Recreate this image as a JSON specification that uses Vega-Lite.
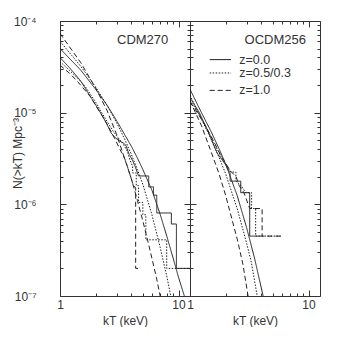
{
  "$schema": "https://vega.github.io/schema/vega-lite/v6.json",
  "background": "white",
  "padding": {"left": 10, "top": 14, "right": 0, "bottom": 0},
  "bounds": "flush",
  "spacing": 0,
  "config": {
    "view": {"stroke": "#333", "strokeWidth": 1},
    "font": "Liberation Sans",
    "axis": {
      "grid": false, "domain": false, "tickColor": "#333", "labelColor": "#333", "titleColor": "#333",
      "labelFont": "Liberation Sans", "titleFont": "Liberation Sans", "labelFontSize": 12, "titleFontSize": 12,
      "titleFontWeight": "normal", "labelFlush": false, "labelOverlap": false
    }
  },
  "datasets": {
    "one": [{}],
    "cdm": [
      {"z":"0","k":"m","i":0,"kT":1,"N":5.0e-5},{"z":"0","k":"m","i":1,"kT":1.5,"N":2.9e-5},{"z":"0","k":"m","i":2,"kT":2,"N":1.8e-5},{"z":"0","k":"m","i":3,"kT":2.5,"N":1.2e-5},{"z":"0","k":"m","i":4,"kT":3,"N":8.2e-6},{"z":"0","k":"m","i":5,"kT":3.5,"N":5.8e-6},{"z":"0","k":"m","i":6,"kT":4,"N":4.3e-6},{"z":"0","k":"m","i":7,"kT":4.5,"N":3.2e-6},{"z":"0","k":"m","i":8,"kT":5,"N":2.4e-6},{"z":"0","k":"m","i":9,"kT":6,"N":1.4e-6},{"z":"0","k":"m","i":10,"kT":7,"N":7.8e-7},{"z":"0","k":"m","i":11,"kT":8,"N":4.4e-7},{"z":"0","k":"m","i":12,"kT":9,"N":2.6e-7},{"z":"0","k":"m","i":13,"kT":10,"N":1.6e-7},{"z":"0","k":"m","i":14,"kT":11.2,"N":1.0e-7},
      {"z":"0.5","k":"m","i":0,"kT":1,"N":6.0e-5},{"z":"0.5","k":"m","i":1,"kT":1.5,"N":3.2e-5},{"z":"0.5","k":"m","i":2,"kT":2,"N":1.9e-5},{"z":"0.5","k":"m","i":3,"kT":2.5,"N":1.2e-5},{"z":"0.5","k":"m","i":4,"kT":3,"N":7.8e-6},{"z":"0.5","k":"m","i":5,"kT":3.5,"N":5.2e-6},{"z":"0.5","k":"m","i":6,"kT":4,"N":3.5e-6},{"z":"0.5","k":"m","i":7,"kT":4.5,"N":2.4e-6},{"z":"0.5","k":"m","i":8,"kT":5,"N":1.65e-6},{"z":"0.5","k":"m","i":9,"kT":6,"N":7.5e-7},{"z":"0.5","k":"m","i":10,"kT":7,"N":3.4e-7},{"z":"0.5","k":"m","i":11,"kT":8,"N":1.6e-7},{"z":"0.5","k":"m","i":12,"kT":8.6,"N":1.0e-7},
      {"z":"1","k":"m","i":0,"kT":1,"N":7.3e-5},{"z":"1","k":"m","i":1,"kT":1.5,"N":3.5e-5},{"z":"1","k":"m","i":2,"kT":2,"N":1.85e-5},{"z":"1","k":"m","i":3,"kT":2.5,"N":1.05e-5},{"z":"1","k":"m","i":4,"kT":3,"N":5.8e-6},{"z":"1","k":"m","i":5,"kT":3.5,"N":3.2e-6},{"z":"1","k":"m","i":6,"kT":4,"N":1.9e-6},{"z":"1","k":"m","i":7,"kT":4.5,"N":1.1e-6},{"z":"1","k":"m","i":8,"kT":5,"N":6.6e-7},{"z":"1","k":"m","i":9,"kT":5.5,"N":4.0e-7},{"z":"1","k":"m","i":10,"kT":6,"N":2.5e-7},{"z":"1","k":"m","i":11,"kT":6.5,"N":1.6e-7},{"z":"1","k":"m","i":12,"kT":7,"N":1.0e-7},
      {"z":"0","k":"s","i":0,"kT":1,"N":4.0e-5},{"z":"0","k":"s","i":1,"kT":1.1,"N":3.5e-5},{"z":"0","k":"s","i":2,"kT":1.2,"N":3.1e-5},{"z":"0","k":"s","i":3,"kT":1.35,"N":2.6e-5},{"z":"0","k":"s","i":4,"kT":1.5,"N":2.2e-5},{"z":"0","k":"s","i":5,"kT":1.7,"N":1.7e-5},{"z":"0","k":"s","i":6,"kT":1.9,"N":1.35e-5},{"z":"0","k":"s","i":7,"kT":2.1,"N":1.1e-5},{"z":"0","k":"s","i":8,"kT":2.3,"N":9.0e-6},{"z":"0","k":"s","i":9,"kT":2.5,"N":7.4e-6},{"z":"0","k":"s","i":10,"kT":2.7,"N":6.0e-6},{"z":"0","k":"s","i":11,"kT":2.9,"N":5.4e-6},{"z":"0","k":"s","i":12,"kT":3.1,"N":5.0e-6},{"z":"0","k":"s","i":13,"kT":3.4,"N":4.7e-6},{"z":"0","k":"s","i":14,"kT":3.6,"N":4.4e-6},{"z":"0","k":"s","i":15,"kT":3.8,"N":3.6e-6},{"z":"0","k":"s","i":16,"kT":4.1,"N":3.0e-6},{"z":"0","k":"s","i":17,"kT":4.35,"N":2.5e-6},{"z":"0","k":"s","i":18,"kT":4.6,"N":2.04e-6},{"z":"0","k":"s","i":19,"kT":5.6,"N":2.04e-6},{"z":"0","k":"s","i":20,"kT":5.6,"N":1.55e-6},{"z":"0","k":"s","i":21,"kT":6.15,"N":1.55e-6},{"z":"0","k":"s","i":22,"kT":6.15,"N":1.26e-6},{"z":"0","k":"s","i":23,"kT":6.55,"N":1.26e-6},{"z":"0","k":"s","i":24,"kT":6.55,"N":8.05e-7},{"z":"0","k":"s","i":25,"kT":8.7,"N":8.05e-7},{"z":"0","k":"s","i":26,"kT":8.7,"N":6.1e-7},{"z":"0","k":"s","i":27,"kT":9.6,"N":6.1e-7},{"z":"0","k":"s","i":28,"kT":9.6,"N":2.0e-7},{"z":"0","k":"s","i":29,"kT":12.5,"N":2.0e-7},
      {"z":"0.5","k":"s","i":0,"kT":1,"N":3.6e-5},{"z":"0.5","k":"s","i":1,"kT":1.2,"N":2.9e-5},{"z":"0.5","k":"s","i":2,"kT":1.4,"N":2.4e-5},{"z":"0.5","k":"s","i":3,"kT":1.6,"N":2.0e-5},{"z":"0.5","k":"s","i":4,"kT":1.8,"N":1.6e-5},{"z":"0.5","k":"s","i":5,"kT":2.0,"N":1.3e-5},{"z":"0.5","k":"s","i":6,"kT":2.2,"N":1.05e-5},{"z":"0.5","k":"s","i":7,"kT":2.5,"N":8.0e-6},{"z":"0.5","k":"s","i":8,"kT":2.8,"N":6.3e-6},{"z":"0.5","k":"s","i":9,"kT":3.1,"N":5.3e-6},{"z":"0.5","k":"s","i":10,"kT":3.4,"N":4.6e-6},{"z":"0.5","k":"s","i":11,"kT":3.7,"N":3.8e-6},{"z":"0.5","k":"s","i":12,"kT":3.9,"N":3.0e-6},{"z":"0.5","k":"s","i":13,"kT":4.1,"N":2.6e-6},{"z":"0.5","k":"s","i":14,"kT":4.1,"N":2.2e-6},{"z":"0.5","k":"s","i":15,"kT":4.4,"N":2.2e-6},{"z":"0.5","k":"s","i":16,"kT":4.4,"N":1.6e-6},{"z":"0.5","k":"s","i":17,"kT":4.6,"N":1.6e-6},{"z":"0.5","k":"s","i":18,"kT":4.6,"N":1.05e-6},{"z":"0.5","k":"s","i":19,"kT":5.0,"N":1.05e-6},{"z":"0.5","k":"s","i":20,"kT":5.0,"N":7.7e-7},{"z":"0.5","k":"s","i":21,"kT":5.3,"N":7.7e-7},{"z":"0.5","k":"s","i":22,"kT":5.3,"N":4.1e-7},{"z":"0.5","k":"s","i":23,"kT":7.95,"N":4.1e-7},{"z":"0.5","k":"s","i":24,"kT":7.95,"N":2.0e-7},{"z":"0.5","k":"s","i":25,"kT":12.5,"N":2.0e-7},
      {"z":"1","k":"s","i":0,"kT":1,"N":3.3e-5},{"z":"1","k":"s","i":1,"kT":1.2,"N":2.7e-5},{"z":"1","k":"s","i":2,"kT":1.4,"N":2.2e-5},{"z":"1","k":"s","i":3,"kT":1.6,"N":1.8e-5},{"z":"1","k":"s","i":4,"kT":1.8,"N":1.5e-5},{"z":"1","k":"s","i":5,"kT":2.0,"N":1.2e-5},{"z":"1","k":"s","i":6,"kT":2.3,"N":9.0e-6},{"z":"1","k":"s","i":7,"kT":2.6,"N":6.8e-6},{"z":"1","k":"s","i":8,"kT":2.9,"N":5.2e-6},{"z":"1","k":"s","i":9,"kT":3.2,"N":4.0e-6},{"z":"1","k":"s","i":10,"kT":3.5,"N":3.2e-6},{"z":"1","k":"s","i":11,"kT":3.7,"N":2.6e-6},{"z":"1","k":"s","i":12,"kT":3.9,"N":2.1e-6},{"z":"1","k":"s","i":13,"kT":4.1,"N":1.7e-6},{"z":"1","k":"s","i":14,"kT":4.35,"N":1.5e-6},{"z":"1","k":"s","i":15,"kT":4.35,"N":2.0e-7},{"z":"1","k":"s","i":16,"kT":4.6,"N":2.0e-7}
    ],
    "ocdm": [
      {"z":"0","k":"m","i":0,"kT":1,"N":1.8e-5},{"z":"0","k":"m","i":1,"kT":1.25,"N":1.0e-5},{"z":"0","k":"m","i":2,"kT":1.5,"N":6.3e-6},{"z":"0","k":"m","i":3,"kT":1.75,"N":4.1e-6},{"z":"0","k":"m","i":4,"kT":2,"N":2.75e-6},{"z":"0","k":"m","i":5,"kT":2.5,"N":1.25e-6},{"z":"0","k":"m","i":6,"kT":3,"N":5.6e-7},{"z":"0","k":"m","i":7,"kT":3.5,"N":2.6e-7},{"z":"0","k":"m","i":8,"kT":4.14,"N":1.0e-7},
      {"z":"0.5","k":"m","i":0,"kT":1,"N":1.55e-5},{"z":"0.5","k":"m","i":1,"kT":1.25,"N":8.5e-6},{"z":"0.5","k":"m","i":2,"kT":1.5,"N":5.2e-6},{"z":"0.5","k":"m","i":3,"kT":1.75,"N":3.3e-6},{"z":"0.5","k":"m","i":4,"kT":2,"N":2.15e-6},{"z":"0.5","k":"m","i":5,"kT":2.5,"N":9.0e-7},{"z":"0.5","k":"m","i":6,"kT":3,"N":3.8e-7},{"z":"0.5","k":"m","i":7,"kT":3.3,"N":2.3e-7},{"z":"0.5","k":"m","i":8,"kT":3.69,"N":1.0e-7},
      {"z":"1","k":"m","i":0,"kT":1,"N":1.35e-5},{"z":"1","k":"m","i":1,"kT":1.25,"N":7.2e-6},{"z":"1","k":"m","i":2,"kT":1.5,"N":3.8e-6},{"z":"1","k":"m","i":3,"kT":1.75,"N":2.2e-6},{"z":"1","k":"m","i":4,"kT":2,"N":1.25e-6},{"z":"1","k":"m","i":5,"kT":2.5,"N":4.2e-7},{"z":"1","k":"m","i":6,"kT":2.8,"N":2.2e-7},{"z":"1","k":"m","i":7,"kT":3.09,"N":1.0e-7},
      {"z":"0","k":"s","i":0,"kT":1,"N":1.45e-5},{"z":"0","k":"s","i":1,"kT":1.1,"N":1.2e-5},{"z":"0","k":"s","i":2,"kT":1.2,"N":1.0e-5},{"z":"0","k":"s","i":3,"kT":1.3,"N":8.0e-6},{"z":"0","k":"s","i":4,"kT":1.4,"N":6.5e-6},{"z":"0","k":"s","i":5,"kT":1.5,"N":5.3e-6},{"z":"0","k":"s","i":6,"kT":1.6,"N":4.3e-6},{"z":"0","k":"s","i":7,"kT":1.7,"N":3.6e-6},{"z":"0","k":"s","i":8,"kT":1.85,"N":3.1e-6},{"z":"0","k":"s","i":9,"kT":2.0,"N":2.7e-6},{"z":"0","k":"s","i":10,"kT":2.18,"N":2.2e-6},{"z":"0","k":"s","i":11,"kT":2.18,"N":1.79e-6},{"z":"0","k":"s","i":12,"kT":2.68,"N":1.79e-6},{"z":"0","k":"s","i":13,"kT":2.68,"N":1.34e-6},{"z":"0","k":"s","i":14,"kT":3.19,"N":1.34e-6},{"z":"0","k":"s","i":15,"kT":3.19,"N":4.5e-7},{"z":"0","k":"s","i":16,"kT":4.06,"N":4.5e-7},
      {"z":"0.5","k":"s","i":0,"kT":1,"N":1.35e-5},{"z":"0.5","k":"s","i":1,"kT":1.1,"N":1.15e-5},{"z":"0.5","k":"s","i":2,"kT":1.2,"N":9.5e-6},{"z":"0.5","k":"s","i":3,"kT":1.3,"N":7.8e-6},{"z":"0.5","k":"s","i":4,"kT":1.45,"N":6.0e-6},{"z":"0.5","k":"s","i":5,"kT":1.6,"N":4.6e-6},{"z":"0.5","k":"s","i":6,"kT":1.75,"N":3.7e-6},{"z":"0.5","k":"s","i":7,"kT":1.9,"N":3.0e-6},{"z":"0.5","k":"s","i":8,"kT":2.05,"N":2.6e-6},{"z":"0.5","k":"s","i":9,"kT":2.22,"N":2.25e-6},{"z":"0.5","k":"s","i":10,"kT":2.44,"N":2.25e-6},{"z":"0.5","k":"s","i":11,"kT":2.44,"N":1.79e-6},{"z":"0.5","k":"s","i":12,"kT":2.7,"N":1.6e-6},{"z":"0.5","k":"s","i":13,"kT":2.95,"N":1.34e-6},{"z":"0.5","k":"s","i":14,"kT":3.31,"N":1.34e-6},{"z":"0.5","k":"s","i":15,"kT":3.31,"N":9.0e-7},{"z":"0.5","k":"s","i":16,"kT":3.58,"N":9.0e-7},{"z":"0.5","k":"s","i":17,"kT":3.58,"N":4.5e-7},{"z":"0.5","k":"s","i":18,"kT":5.95,"N":4.5e-7},
      {"z":"1","k":"s","i":0,"kT":1,"N":1.3e-5},{"z":"1","k":"s","i":1,"kT":1.1,"N":1.1e-5},{"z":"1","k":"s","i":2,"kT":1.2,"N":9.2e-6},{"z":"1","k":"s","i":3,"kT":1.35,"N":7.2e-6},{"z":"1","k":"s","i":4,"kT":1.5,"N":5.6e-6},{"z":"1","k":"s","i":5,"kT":1.65,"N":4.4e-6},{"z":"1","k":"s","i":6,"kT":1.8,"N":3.5e-6},{"z":"1","k":"s","i":7,"kT":2.0,"N":2.8e-6},{"z":"1","k":"s","i":8,"kT":2.2,"N":2.3e-6},{"z":"1","k":"s","i":9,"kT":2.45,"N":2.0e-6},{"z":"1","k":"s","i":10,"kT":2.6,"N":1.6e-6},{"z":"1","k":"s","i":11,"kT":2.85,"N":1.34e-6},{"z":"1","k":"s","i":12,"kT":3.19,"N":9.0e-7},{"z":"1","k":"s","i":13,"kT":4.06,"N":9.0e-7},{"z":"1","k":"s","i":14,"kT":4.06,"N":4.5e-7},{"z":"1","k":"s","i":15,"kT":5.95,"N":4.5e-7}
    ]
  },
  "hconcat": [
    {
      "width": 130, "height": 275,
      "data": {"name": "cdm"},
      "resolve": {"axis": {"x": "independent", "y": "independent"}},
      "layer": [
        {
          "mark": {"type": "line", "stroke": "#222", "strokeWidth": 1, "clip": true},
          "encoding": {
            "x": {"field": "kT", "type": "quantitative", "scale": {"type": "log", "domain": [1, 12.5], "nice": false},
              "axis": {"orient": "bottom", "values": [1,2,3,4,5,6,7,8,9,10], "labelExpr": "datum.value == 1 ? '1' : datum.value == 10 ? '10' : ''",
                "tickSize": {"condition": {"test": "datum.value == 1 || datum.value == 10", "value": -6}, "value": -3},
                "labelPadding": 9, "title": "kT (keV)", "titlePadding": 2}},
            "y": {"field": "N", "type": "quantitative", "scale": {"type": "log", "domain": [1e-7, 1e-4], "nice": false},
              "axis": {"orient": "left",
                "values": [1e-7,2e-7,3e-7,4e-7,5e-7,6e-7,7e-7,8e-7,9e-7,1e-6,2e-6,3e-6,4e-6,5e-6,6e-6,7e-6,8e-6,9e-6,1e-5,2e-5,3e-5,4e-5,5e-5,6e-5,7e-5,8e-5,9e-5,1e-4],
                "labelExpr": "abs(log(datum.value)/LN10 - round(log(datum.value)/LN10)) < 1e-6 ? (round(log(datum.value)/LN10) == -4 ? '10⁻⁴' : round(log(datum.value)/LN10) == -5 ? '10⁻⁵' : round(log(datum.value)/LN10) == -6 ? '10⁻⁶' : '10⁻⁷') : ''",
                "tickSize": {"condition": {"test": "abs(log(datum.value)/LN10 - round(log(datum.value)/LN10)) < 1e-6", "value": -6}, "value": -3},
                "labelPadding": 30, "title": "N(>kT) Mpc⁻³", "titleX": -43, "titleY": 132, "titleBaseline": "middle", "titleAlign": "center"}},
            "strokeDash": {"field": "z", "type": "nominal", "scale": {"domain": ["0", "0.5", "1"], "range": [[1, 0], [1.5, 1.5], [5, 3]]}, "legend": null},
            "detail": {"field": "k"},
            "order": {"field": "i", "type": "quantitative"}
          }
        },
        {
          "mark": {"type": "point", "opacity": 0},
          "encoding": {
            "x": {"field": "kT", "type": "quantitative", "scale": {"type": "log", "domain": [1, 12.5], "nice": false},
              "axis": {"orient": "top", "values": [1,2,3,4,5,6,7,8,9,10], "labels": false, "title": null,
                "tickSize": {"condition": {"test": "datum.value == 1 || datum.value == 10", "value": -6}, "value": -3}}},
            "y": {"field": "N", "type": "quantitative", "scale": {"type": "log", "domain": [1e-7, 1e-4], "nice": false},
              "axis": {"orient": "right", "labels": false, "title": null,
                "values": [1e-7,2e-7,3e-7,4e-7,5e-7,6e-7,7e-7,8e-7,9e-7,1e-6,2e-6,3e-6,4e-6,5e-6,6e-6,7e-6,8e-6,9e-6,1e-5,2e-5,3e-5,4e-5,5e-5,6e-5,7e-5,8e-5,9e-5,1e-4],
                "tickSize": {"condition": {"test": "abs(log(datum.value)/LN10 - round(log(datum.value)/LN10)) < 1e-6", "value": -6}, "value": -3}}}
          }
        },
        {
          "data": {"name": "one"},
          "mark": {"type": "text", "fontSize": 13, "font": "Liberation Sans", "fill": "#333", "align": "center", "baseline": "middle"},
          "encoding": {
            "x": {"datum": 4.98, "type": "quantitative", "axis": null},
            "y": {"datum": 6.2e-5, "type": "quantitative", "axis": null},
            "text": {"value": "CDM270"}
          }
        }
      ]
    },
    {
      "width": 130, "height": 275,
      "data": {"name": "ocdm"},
      "resolve": {"axis": {"x": "independent", "y": "independent"}},
      "layer": [
        {
          "mark": {"type": "line", "stroke": "#222", "strokeWidth": 1, "clip": true},
          "encoding": {
            "x": {"field": "kT", "type": "quantitative", "scale": {"type": "log", "domain": [1, 12.5], "nice": false},
              "axis": {"orient": "bottom", "values": [1,2,3,4,5,6,7,8,9,10], "labelExpr": "datum.value == 1 ? '1' : datum.value == 10 ? '10' : ''",
                "tickSize": {"condition": {"test": "datum.value == 1 || datum.value == 10", "value": -6}, "value": -3},
                "labelPadding": 9, "title": "kT (keV)", "titlePadding": 2}},
            "y": {"field": "N", "type": "quantitative", "scale": {"type": "log", "domain": [1e-7, 1e-4], "nice": false},
              "axis": {"orient": "left", "labels": false, "title": null,
                "values": [1e-7,2e-7,3e-7,4e-7,5e-7,6e-7,7e-7,8e-7,9e-7,1e-6,2e-6,3e-6,4e-6,5e-6,6e-6,7e-6,8e-6,9e-6,1e-5,2e-5,3e-5,4e-5,5e-5,6e-5,7e-5,8e-5,9e-5,1e-4],
                "tickSize": {"condition": {"test": "abs(log(datum.value)/LN10 - round(log(datum.value)/LN10)) < 1e-6", "value": -6}, "value": -3}}},
            "strokeDash": {"field": "z", "type": "nominal", "scale": {"domain": ["0", "0.5", "1"], "range": [[1, 0], [1.5, 1.5], [5, 3]]}, "legend": null},
            "detail": {"field": "k"},
            "order": {"field": "i", "type": "quantitative"}
          }
        },
        {
          "mark": {"type": "point", "opacity": 0},
          "encoding": {
            "x": {"field": "kT", "type": "quantitative", "scale": {"type": "log", "domain": [1, 12.5], "nice": false},
              "axis": {"orient": "top", "values": [1,2,3,4,5,6,7,8,9,10], "labels": false, "title": null,
                "tickSize": {"condition": {"test": "datum.value == 1 || datum.value == 10", "value": -6}, "value": -3}}},
            "y": {"field": "N", "type": "quantitative", "scale": {"type": "log", "domain": [1e-7, 1e-4], "nice": false},
              "axis": {"orient": "right", "labels": false, "title": null,
                "values": [1e-7,2e-7,3e-7,4e-7,5e-7,6e-7,7e-7,8e-7,9e-7,1e-6,2e-6,3e-6,4e-6,5e-6,6e-6,7e-6,8e-6,9e-6,1e-5,2e-5,3e-5,4e-5,5e-5,6e-5,7e-5,8e-5,9e-5,1e-4],
                "tickSize": {"condition": {"test": "abs(log(datum.value)/LN10 - round(log(datum.value)/LN10)) < 1e-6", "value": -6}, "value": -3}}}
          }
        },
        {
          "data": {"name": "one"},
          "mark": {"type": "text", "fontSize": 13, "font": "Liberation Sans", "fill": "#333", "align": "center", "baseline": "middle"},
          "encoding": {
            "x": {"datum": 5.24, "type": "quantitative", "axis": null},
            "y": {"datum": 6.2e-5, "type": "quantitative", "axis": null},
            "text": {"value": "OCDM256"}
          }
        },
        {
          "data": {"name": "one"},
          "mark": {"type": "rule", "stroke": "#222", "strokeWidth": 1},
          "encoding": {"x": {"datum": 1.466, "type": "quantitative", "axis": null}, "x2": {"datum": 2.22}, "y": {"datum": 3.79e-5, "type": "quantitative", "axis": null}}
        },
        {
          "data": {"name": "one"},
          "mark": {"type": "rule", "stroke": "#222", "strokeWidth": 1, "strokeDash": [1.5, 1.5]},
          "encoding": {"x": {"datum": 1.466, "type": "quantitative", "axis": null}, "x2": {"datum": 2.22}, "y": {"datum": 2.71e-5, "type": "quantitative", "axis": null}}
        },
        {
          "data": {"name": "one"},
          "mark": {"type": "rule", "stroke": "#222", "strokeWidth": 1, "strokeDash": [5, 3]},
          "encoding": {"x": {"datum": 1.466, "type": "quantitative", "axis": null}, "x2": {"datum": 2.22}, "y": {"datum": 1.75e-5, "type": "quantitative", "axis": null}}
        },
        {
          "data": {"name": "one"},
          "mark": {"type": "text", "fontSize": 12.5, "font": "Liberation Sans", "fill": "#333", "align": "left", "baseline": "middle"},
          "encoding": {"x": {"datum": 2.6, "type": "quantitative", "axis": null}, "y": {"datum": 3.79e-5, "type": "quantitative", "axis": null}, "text": {"value": "z=0.0"}}
        },
        {
          "data": {"name": "one"},
          "mark": {"type": "text", "fontSize": 12.5, "font": "Liberation Sans", "fill": "#333", "align": "left", "baseline": "middle"},
          "encoding": {"x": {"datum": 2.6, "type": "quantitative", "axis": null}, "y": {"datum": 2.71e-5, "type": "quantitative", "axis": null}, "text": {"value": "z=0.5/0.3"}}
        },
        {
          "data": {"name": "one"},
          "mark": {"type": "text", "fontSize": 12.5, "font": "Liberation Sans", "fill": "#333", "align": "left", "baseline": "middle"},
          "encoding": {"x": {"datum": 2.6, "type": "quantitative", "axis": null}, "y": {"datum": 1.75e-5, "type": "quantitative", "axis": null}, "text": {"value": "z=1.0"}}
        }
      ]
    }
  ]
}
